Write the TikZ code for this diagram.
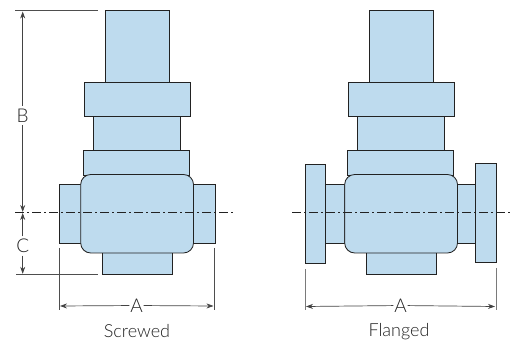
\documentclass[tikz,border=0pt]{standalone}
\usepackage{fontspec}
\setmainfont{Lato Light}
\usetikzlibrary{arrows.meta}
\definecolor{valve}{HTML}{BEDBEE}
\definecolor{ink}{HTML}{222222}
\tikzset{
  part/.style={draw=ink,fill=valve,line width=0.85pt},
  axis/.style={draw=ink,line width=0.7pt,dash pattern=on 9pt off 3pt on 2pt off 3pt},
  ext/.style={draw=ink!80,line width=0.7pt},
  dim/.style={draw=ink!85,line width=0.7pt,-{Stealth[length=7pt,width=5pt]}},
  lab/.style={text=ink,font=\fontsize{19}{20}\selectfont,inner sep=0pt,minimum width=14pt,minimum height=19pt},
  captext/.style={text=ink,font=\fontsize{18}{20}\selectfont,inner sep=0pt}
}
\newcommand{\valvebody}[1]{%
  \begin{scope}[xshift=#1pt]
    \draw[part] (105,10.3) rectangle (169.5,82);
    \draw[part] (93.5,116) rectangle (180.5,150);
    \draw[part] (84.3,82) rectangle (190.5,116);
    \draw[part] (83.5,150) rectangle (189.7,175);
    \draw[part] (102,252) rectangle (172.5,274.5);
  \end{scope}}
\newcommand{\valvecore}[1]{%
  \begin{scope}[xshift=#1pt]
    \draw[part,rounded corners=10pt] (80.7,174.5) rectangle (193.5,253);
  \end{scope}}
\begin{document}
\begin{tikzpicture}[x=1pt,y=-1pt]
  \useasboundingbox (0,0) rectangle (512,342);
  % screwed valve
  \draw[part] (59,184) rectangle (81,243.5);
  \draw[part] (193.5,184) rectangle (215,243.5);
  \valvebody{0}
  \valvecore{0}
  % flanged valve
  \draw[part] (325.5,184) rectangle (344.5,243.5);
  \draw[part] (457.5,184) rectangle (475.5,243.5);
  \draw[part] (305,164.7) rectangle (325.5,263);
  \draw[part] (475.5,163.8) rectangle (496,262.5);
  \valvebody{264}
  \valvecore{264}
  % centre lines
  \draw[axis] (15,212.5) -- (233,212.5);
  \draw[axis] (292,212.5) -- (510,212.5);
  % extension lines
  \coordinate (topL) at (15,10.3);
  \coordinate (topR) at (98,10.3);
  \coordinate (botL) at (16,274.3);
  \coordinate (botR) at (98,274.3);
  \draw[ext] (topL) -- (topR);
  \draw[ext] (botL) -- (botR);
  \coordinate (a1t) at (59,248);  \coordinate (a1b) at (59,309.5);
  \coordinate (a2t) at (214.5,248);  \coordinate (a2b) at (214.5,309.5);
  \coordinate (a3t) at (305,269);  \coordinate (a3b) at (305,310);
  \coordinate (a4t) at (496,268);  \coordinate (a4b) at (496,310);
  \draw[ext] (a1t) -- (a1b);
  \draw[ext] (a2t) -- (a2b);
  \draw[ext,draw=ink!60,line width=0.9pt] (a3t) -- (a3b);
  \draw[ext,draw=ink!60,line width=0.9pt] (a4t) -- (a4b);
  % dimension labels
  \node[lab] (B) at (22.7,115.5) {B};
  \node[lab] (C) at (22.7,246) {C};
  \node[lab] (A1) at (136.5,305.5) {A};
  \node[lab] (A2) at (400.5,305.5) {A};
  % dimension arrows
  \coordinate (Btop) at (22.7,11.5);
  \coordinate (Bbot) at (22.7,212);
  \coordinate (Ctop) at (22.7,213);
  \coordinate (Cbot) at (22.7,273.8);
  \draw[dim] (B) -- (Btop);
  \draw[dim] (B) -- (Bbot);
  \draw[dim] (C) -- (Ctop);
  \draw[dim] (C) -- (Cbot);
  \coordinate (A1l) at (60,306);
  \coordinate (A1r) at (213.5,306);
  \coordinate (A2l) at (306,306.5);
  \coordinate (A2r) at (495,306.5);
  \draw[dim] (A1) -- (A1l);
  \draw[dim] (A1) -- (A1r);
  \draw[dim] (A2) -- (A2l);
  \draw[dim] (A2) -- (A2r);
  % captions
  \node[captext] (screwed) at (137,331.5) {Screwed};
  \node[captext] (flanged) at (399,331.5) {Flanged};
\end{tikzpicture}
\end{document}
